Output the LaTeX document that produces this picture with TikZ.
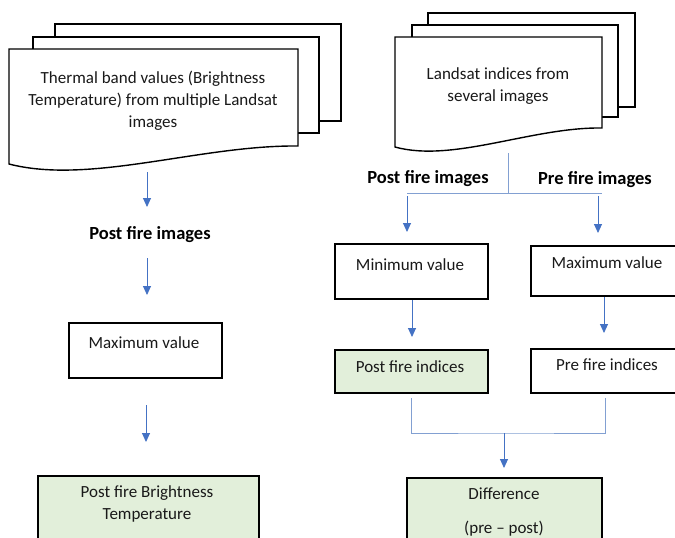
\documentclass[tikz,border=0pt]{standalone}
\usepackage{fontspec}
\setmainfont{Carlito}
\usetikzlibrary{arrows.meta}
\definecolor{arrowblue}{RGB}{68,114,196}
\definecolor{lineblue}{RGB}{130,160,210}
\definecolor{boxgreen}{RGB}{226,239,218}
\definecolor{textgray}{RGB}{25,25,25}
\begin{document}
\begin{tikzpicture}[x=1pt,y=-1pt,
  sheet/.style={draw=black, line width=1.4pt, fill=white},
  box/.style={draw=black, line width=1.8pt, fill=white, inner sep=0pt, anchor=north west},
  greenbox/.style={box, fill=boxgreen},
  txt/.style={font=\fontsize{17}{22}\selectfont, align=center, text=textgray, inner sep=0pt},
  hdr/.style={font=\fontsize{18.5}{20}\selectfont\bfseries, inner sep=0pt},
  arr/.style={draw=arrowblue, line width=0.9pt, -{Triangle[width=8pt,length=9pt]}},
  conn/.style={draw=lineblue, line width=0.8pt}]
\fill[white] (0,0) rectangle (675,538);
\clip (0,0) rectangle (675,538);

% left document stack
\draw[sheet] (55,24) rectangle (341,121);
\draw[sheet] (33,37) rectangle (319,133);
\draw[sheet] (9,49) -- (298,49) -- (298,146) .. controls (200,145) and (90,185) .. (9,164) -- cycle;
\node[txt] (t1) at (153,101) {Thermal band values (Brightness\\Temperature) from multiple Landsat\\images};

% right document stack
\draw[sheet] (428,13) rectangle (635,107);
\draw[sheet] (412,25) rectangle (618,117);
\draw[sheet] (395,37) -- (602,37) -- (602,128) .. controls (532,127) and (453,163) .. (395,147) -- cycle;
\node[txt] (t2) at (498,86) {Landsat indices from\\several images};

% left column
\node[hdr] (lpost) at (150,235) {Post fire images};
\node[box, minimum width=153pt, minimum height=55pt] (lmax) at (68,322) {};
\node[txt] (lmaxt) at (144,343) {Maximum value};
\node[greenbox, minimum width=221pt, minimum height=90pt] (bt) at (37,475) {};
\node[txt] (btt) at (147,504) {Post fire Brightness\\Temperature};

\coordinate (a1s) at (147,172); \coordinate (a1e) at (147,207);
\draw[arr] (a1s) -- (a1e);
\coordinate (a2s) at (147,258); \coordinate (a2e) at (147,295);
\draw[arr] (a2s) -- (a2e);
\coordinate (a3s) at (146,405); \coordinate (a3e) at (146,442);
\draw[arr] (a3s) -- (a3e);

% right columns
\node[hdr] (rpost) at (428,179) {Post fire images};
\node[hdr] (rpre) at (595,180) {Pre fire images};

\node[box, minimum width=153pt, minimum height=55pt] (minv) at (334,243) {};
\node[txt] (minvt) at (410,265) {Minimum value};
\node[box, minimum width=160pt, minimum height=50pt] (rmax) at (530,245) {};
\node[txt] (rmaxt) at (607,263) {Maximum value};
\node[greenbox, minimum width=153pt, minimum height=43pt] (posti) at (334,349) {};
\node[txt] (postit) at (410,367) {Post fire indices};
\node[box, minimum width=160pt, minimum height=44pt] (prei) at (530,348) {};
\node[txt] (preit) at (607,365) {Pre fire indices};
\node[greenbox, minimum width=195pt, minimum height=90pt] (diff) at (406,477) {};
\node[txt] (difft1) at (504,494) {Difference};
\node[txt] (difft2) at (504,529) {(pre -- post)};

% split connector
\coordinate (s0) at (508,153); \coordinate (s1) at (508,194);
\coordinate (sl) at (407,193); \coordinate (sr) at (602,193);
\draw[conn] (s0) -- (s1);
\draw[conn] (sl) -- (sr);
\coordinate (b1s) at (407,196); \coordinate (b1e) at (407,232);
\draw[arr] (b1s) -- (b1e);
\coordinate (b2s) at (598,196); \coordinate (b2e) at (598,233);
\draw[arr] (b2s) -- (b2e);
\coordinate (c1s) at (412,300); \coordinate (c1e) at (412,337);
\draw[arr] (c1s) -- (c1e);
\coordinate (c2s) at (604,297); \coordinate (c2e) at (604,333);
\draw[arr] (c2s) -- (c2e);

% merge connector
\coordinate (m1) at (411,398); \coordinate (m2) at (605,398);
\draw[conn] (m1) |- (504,433) -| (m2);
\coordinate (d1s) at (504,433); \coordinate (d1e) at (504,468);
\draw[arr] (d1s) -- (d1e);
\end{tikzpicture}
\end{document}
